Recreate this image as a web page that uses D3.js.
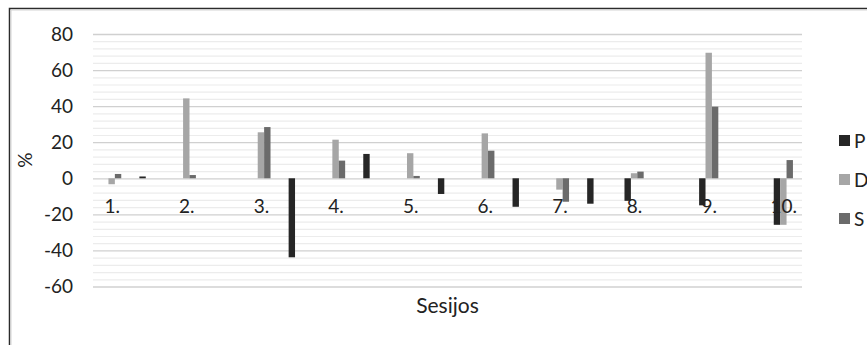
<!DOCTYPE html>
<html>
<head>
<meta charset="utf-8">
<script src="https://cdn.jsdelivr.net/npm/d3@7"></script>
<style>
  html, body { margin: 0; padding: 0; background: #fff; }
  svg { display: block; }
  text { font-family: Lato, "Open Sans", "Liberation Sans", sans-serif; }
</style>
</head>
<body>
<div id="chart"></div>
<script>
// ---- data ----
const categories = ["1.", "2.", "3.", "4.", "5.", "6.", "7.", "8.", "9.", "10."];
const seriesNames = ["P", "D", "S"];
const pValues = [1, 0, -43.8, 13.5, -8.7, -15.8, -14.1, -12.5, -15, -25.8];
const dValues = [-3.3, 44.3, 25.5, 21.4, 13.9, 24.9, -6.3, 2.8, 69.6, -25.8];
const sValues = [2.4, 1.8, 28.4, 9.8, 1.3, 15.3, -13, 3.7, 39.7, 10.1];
const yTicks = [-60, -40, -20, 0, 20, 40, 60, 80];
const xTitle = "Sesijos";
const yTitle = "%";

const colors = { P: "#262626", D: "#a6a6a6", S: "#6b6b6b" };

const W = 867, H = 345;
const svg = d3.select("#chart").append("svg").attr("width", W).attr("height", H);

// chart border (extends past the bottom/right edges)
svg.append("path")
  .attr("d", "M9.5,360 L9.5,8.5 L880,8.5")
  .attr("fill", "none").attr("stroke", "#2b2b2b").attr("stroke-width", 1.5);
svg.append("path")
  .attr("d", "M11,360 L11,10 L880,10")
  .attr("fill", "none").attr("stroke", "#d4d4d4").attr("stroke-width", 1);

const plot = { left: 93, right: 802, top: 34, bottom: 286.5 };

const y = d3.scaleLinear().domain([-60, 80]).range([plot.bottom, plot.top]);
const x = d3.scaleLinear().domain([-0.25, 9.25]).range([plot.left, plot.right]);
const barW = 6.4;
const fontSize = 19;

// minor gridlines
const minor = d3.range(-60, 80.01, 4).filter(v => !yTicks.includes(v));
svg.append("g").selectAll("line").data(minor).join("line")
  .attr("x1", plot.left).attr("x2", plot.right)
  .attr("y1", d => y(d) + 0.5).attr("y2", d => y(d) + 0.5)
  .attr("stroke", "#ececec").attr("stroke-width", 1.2);

// y axis (major gridlines + labels)
const yAxis = d3.axisLeft(y).tickValues(yTicks)
  .tickFormat(d => String(d))
  .tickSize(-(plot.right - plot.left)).tickPadding(20);
const gy = svg.append("g").attr("transform", `translate(${plot.left},0)`).call(yAxis);
gy.select(".domain").remove();
gy.selectAll(".tick line").attr("stroke", "#d0d0d0").attr("stroke-width", 1.3);
gy.selectAll(".tick text").attr("font-size", fontSize).attr("fill", "#222")
  .attr("font-family", "Lato, 'Open Sans', sans-serif");

// P series is drawn half a session to the right for sessions 1-7 (as in the original chart)
function pPos(i) { return i < 7 ? i + 0.5 : i; }

const bars = [];
categories.forEach((c, i) => {
  bars.push({ s: "P", v: pValues[i], cx: x(pPos(i)) - barW });
  bars.push({ s: "D", v: dValues[i], cx: x(i) });
  bars.push({ s: "S", v: sValues[i], cx: x(i) + barW });
});

svg.append("g").selectAll("rect").data(bars).join("rect")
  .attr("x", d => d.cx - barW / 2)
  .attr("width", barW)
  .attr("y", d => Math.min(y(d.v), y(0)))
  .attr("height", d => Math.abs(y(d.v) - y(0)))
  .attr("fill", d => colors[d.s]);

// category labels (axis at zero, labels below)
const xAxis = d3.axisBottom(x).tickValues(d3.range(categories.length))
  .tickFormat(i => categories[i]).tickSize(0).tickPadding(21);
const gx = svg.append("g").attr("transform", `translate(0,${y(0)})`).call(xAxis);
gx.select(".domain").remove();
gx.selectAll(".tick text").attr("font-size", fontSize).attr("fill", "#222")
  .attr("font-family", "Lato, 'Open Sans', sans-serif");

// axis titles
svg.append("text").attr("x", 447.5).attr("y", 312.5).attr("text-anchor", "middle")
  .attr("font-size", 21).attr("fill", "#222").text(xTitle);
svg.append("text").attr("transform", `translate(32,${(plot.top + plot.bottom) / 2}) rotate(-90)`)
  .attr("text-anchor", "middle").attr("font-size", 19).attr("fill", "#222").text(yTitle);

// legend
const lg = svg.append("g").selectAll("g").data(seriesNames).join("g")
  .attr("transform", (d, i) => `translate(839,${140.5 + i * 39})`);
lg.append("rect").attr("x", 0).attr("y", -5.5).attr("width", 11).attr("height", 11)
  .attr("fill", d => colors[d]);
lg.append("text").attr("x", 15).attr("y", 7).attr("font-size", 19).attr("fill", "#222").text(d => d);
</script>
</body>
</html>
